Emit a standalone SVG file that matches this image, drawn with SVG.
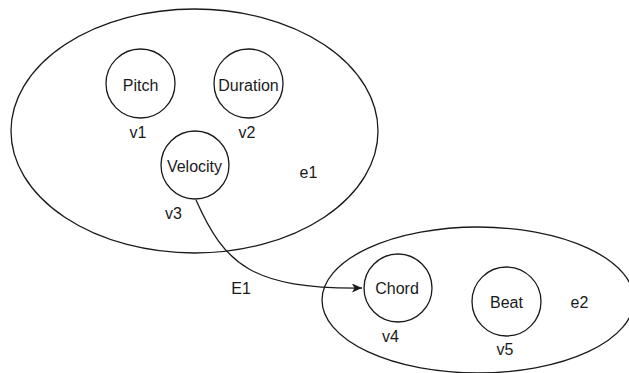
<svg xmlns="http://www.w3.org/2000/svg" width="629" height="373" viewBox="0 0 629 373">
<style>
.shape{fill:#ffffff;stroke:#1a1a1a;stroke-width:1.3}
.lbl{font-family:"Liberation Sans",Arial,sans-serif;font-size:16px;fill:#1a1a1a;text-anchor:middle}
.edge{fill:none;stroke:#1a1a1a;stroke-width:1.3}
</style>
<defs>
<marker id="arrow" markerWidth="12" markerHeight="10" refX="10" refY="4.5" orient="auto" markerUnits="userSpaceOnUse">
<path d="M0,0 L10,4.5 L0,9 L2.5,4.5 Z" fill="#1a1a1a"/>
</marker>
</defs>
<rect width="629" height="373" fill="#ffffff"/>
<g id="e1">
<ellipse class="shape" cx="194.5" cy="131" rx="183.5" ry="122"/>
<text class="lbl" x="308.5" y="178">e1</text>
</g>
<g id="e2">
<ellipse class="shape" cx="478" cy="300" rx="156" ry="73"/>
<text class="lbl" x="579.5" y="308">e2</text>
</g>
<g id="v1">
<circle class="shape" cx="140.5" cy="83.5" r="34.5"/>
<text class="lbl" x="140.5" y="90.5">Pitch</text>
<text class="lbl" x="138" y="138">v1</text>
</g>
<g id="v2">
<circle class="shape" cx="248.5" cy="83.5" r="34.5"/>
<text class="lbl" x="248.5" y="90.5">Duration</text>
<text class="lbl" x="247" y="138">v2</text>
</g>
<g id="v3">
<circle class="shape" cx="195" cy="165" r="34"/>
<text class="lbl" x="194.5" y="172">Velocity</text>
<text class="lbl" x="173.5" y="219">v3</text>
</g>
<g id="v4">
<circle class="shape" cx="398" cy="288" r="34"/>
<text class="lbl" x="397" y="294">Chord</text>
<text class="lbl" x="390.5" y="341.5">v4</text>
</g>
<g id="v5">
<circle class="shape" cx="506.5" cy="301.5" r="34.5"/>
<text class="lbl" x="506.5" y="308">Beat</text>
<text class="lbl" x="505" y="355">v5</text>
</g>
<g id="connectors">
<path class="edge" d="M196,200 C225,265 252,289 362,288" marker-end="url(#arrow)"/>
<text class="lbl" x="241" y="294">E1</text>
</g>
</svg>
